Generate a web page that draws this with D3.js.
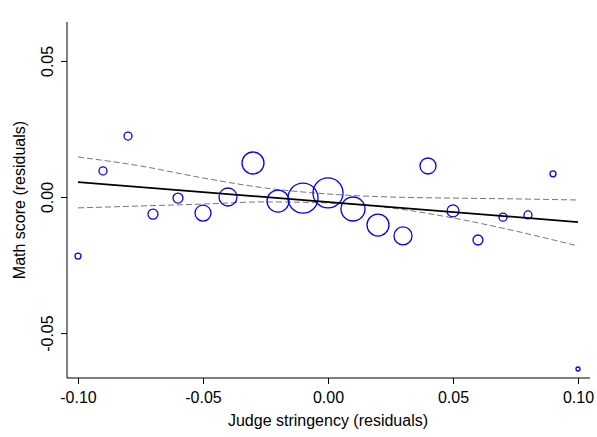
<!DOCTYPE html>
<html><head><meta charset="utf-8">
<script src="https://cdn.jsdelivr.net/npm/d3@7"></script>
<style>body{margin:0;background:#fff}svg{font-family:"Liberation Sans",Arial,sans-serif}</style>
</head><body><svg id="c" width="597" height="437"></svg>
<script>
const binX = [-0.10,-0.09,-0.08,-0.07,-0.06,-0.05,-0.04,-0.03,-0.02,-0.01,0.00,0.01,0.02,0.03,0.04,0.05,0.06,0.07,0.08,0.09,0.10];
const binY = [-0.0217,0.0096,0.0224,-0.0063,-0.0004,-0.0059,0.0000,0.0125,-0.0015,-0.0004,0.0015,-0.0044,-0.0103,-0.0143,0.0114,-0.0051,-0.0158,-0.0074,-0.0066,0.0085,-0.0632];
const binN = [9,16,16,25,25,64,81,121,121,225,225,144,121,81,64,36,25,16,16,9,4];
const fitX = [-0.10,0.10];
const fitY = [0.0055,-0.0092];
const ciX = [-0.10,-0.075,-0.05,-0.025,0,0.025,0.05,0.075,0.10];
const ciUpper = [0.0147,0.0114,0.0070,0.0033,0.0011,0.0000,-0.0004,-0.0007,-0.0011];
const ciLower = [-0.0040,-0.0033,-0.0026,-0.0018,-0.0022,-0.0040,-0.0077,-0.0125,-0.0180];
const xTicks = [-0.10,-0.05,0.00,0.05,0.10];
const yTicks = [-0.05,0.00,0.05];

const svg = d3.select('#c');
const x = d3.scaleLinear().domain([-0.1044,0.1048]).range([67,590]);
const y = d3.scaleLinear().domain([-0.0665,0.0643]).range([378,22]);
const r = d3.scaleSqrt().domain([0,225]).range([0,15]);
const fmt = d => d3.format('.2f')(d).replace('\u2212','-');

svg.append('g').attr('transform','translate(0,378)')
  .call(d3.axisBottom(x).tickValues(xTicks).tickSize(6).tickFormat(fmt))
  .call(g=>g.select('.domain').attr('d','M67,0H590'))
  .call(g=>g.selectAll('text').attr('font-size',16).attr('dy','1em').attr('fill','#000'));
svg.append('g').attr('transform','translate(67,0)')
  .call(d3.axisLeft(y).tickValues(yTicks).tickSize(6).tickFormat(fmt))
  .call(g=>g.select('.domain').attr('d','M0,22V378'))
  .call(g=>g.selectAll('text').attr('font-size',16).attr('fill','#000')
    .attr('text-anchor','middle').attr('x',0).attr('dy',0)
    .attr('transform','translate(-14,0) rotate(-90)'));

const line = d3.line().x(d=>x(d[0])).y(d=>y(d[1]));
const cline = d3.line().x(d=>x(d[0])).y(d=>y(d[1])).curve(d3.curveMonotoneX);
[ciUpper,ciLower].forEach(s=>svg.append('path')
  .attr('d',cline(ciX.map((v,i)=>[v,s[i]])))
  .attr('fill','none').attr('stroke','#777').attr('stroke-width',1).attr('stroke-dasharray','6,3'));

svg.selectAll('circle').data(binX).join('circle')
  .attr('cx',d=>x(d)).attr('cy',(d,i)=>y(binY[i])).attr('r',(d,i)=>r(binN[i]))
  .attr('fill','none').attr('stroke','#0000ff').attr('stroke-width',1.3);

svg.append('path').attr('d',line(fitX.map((v,i)=>[v,fitY[i]])))
  .attr('fill','none').attr('stroke','#000').attr('stroke-width',1.8);

svg.append('text').attr('x',328).attr('y',426).attr('text-anchor','middle').attr('font-size',16).text('Judge stringency (residuals)');
svg.append('text').attr('transform','translate(25,200) rotate(-90)').attr('text-anchor','middle').attr('font-size',16).text('Math score (residuals)');
</script></body></html>
